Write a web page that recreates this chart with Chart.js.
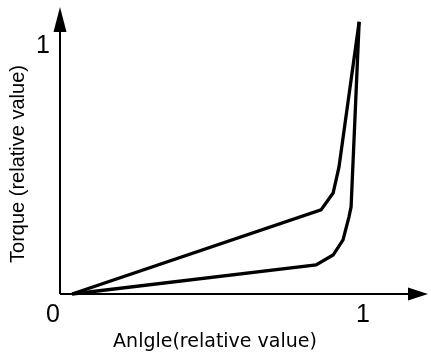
<!DOCTYPE html>
<html>
<head>
<meta charset="utf-8">
<script src="https://cdn.jsdelivr.net/npm/chart.js"></script>
<style>
	body { margin: 0; background: #fff; }
	#box { width: 431px; height: 356px; }
</style>
</head>
<body>
<div id="box"><canvas id="mycanvas"></canvas></div>
<script>
// values (relative units)
var upperAngle = [0.039, 0.842, 0.881, 0.900, 0.965];
var upperTorque = [0, 0.339, 0.407, 0.512, 1.097];
var lowerAngle = [0.039, 0.826, 0.881, 0.913, 0.932, 0.939, 0.965];
var lowerTorque = [0, 0.117, 0.157, 0.218, 0.310, 0.351, 1.097];
var xTicks = [0, 1];
var yTicks = [1];

function toPoints(xs, ys) {
	var pts = [];
	for (var i in xs) {
		pts.push({x: xs[i], y: ys[i]});
	}
	return pts;
}

// axis lines with arrow heads, running past the chart area
var arrowAxes = {
	id: 'arrowAxes',
	afterDatasetsDraw: function(chart) {
		var ctx = chart.ctx;
		var area = chart.chartArea;
		var x0 = chart.scales.x.getPixelForValue(0);
		var y0 = chart.scales.y.getPixelForValue(0);
		var xTip = area.right + 58;
		var yTip = area.top - 27;
		ctx.save();
		ctx.strokeStyle = '#000';
		ctx.fillStyle = '#000';
		ctx.lineWidth = 2;
		ctx.beginPath();
		ctx.moveTo(x0, y0);
		ctx.lineTo(xTip - 18, y0);
		ctx.moveTo(x0, y0);
		ctx.lineTo(x0, yTip + 22);
		ctx.stroke();
		ctx.beginPath();
		ctx.moveTo(xTip, y0);
		ctx.lineTo(xTip - 20, y0 - 6.5);
		ctx.lineTo(xTip - 20, y0 + 6.5);
		ctx.closePath();
		ctx.fill();
		ctx.beginPath();
		ctx.moveTo(x0, yTip);
		ctx.lineTo(x0 - 6.5, yTip + 25);
		ctx.lineTo(x0 + 6.5, yTip + 25);
		ctx.closePath();
		ctx.fill();
		ctx.restore();
	}
};

var chartdata = {
	datasets: [
		{
			label: 'upper',
			data: toPoints(upperAngle, upperTorque),
			borderColor: '#000',
			borderWidth: 3.3,
			showLine: true,
			pointRadius: 0,
			tension: 0,
			clip: false
		},
		{
			label: 'lower',
			data: toPoints(lowerAngle, lowerTorque),
			borderColor: '#000',
			borderWidth: 3.3,
			showLine: true,
			pointRadius: 0,
			tension: 0,
			clip: false
		}
	]
};

var ctx = document.getElementById('mycanvas');

var graph = new Chart(ctx, {
	type: 'scatter',
	data: chartdata,
	plugins: [arrowAxes],
	options: {
		responsive: true,
		maintainAspectRatio: false,
		animation: false,
		layout: { padding: { top: 34, right: 61, left: 0, bottom: 0 } },
		plugins: {
			legend: { display: false },
			tooltip: { enabled: false }
		},
		scales: {
			x: {
				min: 0,
				max: 1,
				border: { display: false },
				grid: { display: false, drawTicks: false },
				afterBuildTicks: function(scale) {
					scale.ticks = xTicks.map(function(v) { return {value: v}; });
				},
				afterFit: function(scale) { scale.height = 62; },
				ticks: {
					align: 'end',
					padding: 6,
					color: '#000',
					font: { family: 'Liberation Sans', size: 25 },
					callback: function(v) { return String(v); }
				},
				title: {
					display: true,
					text: 'Anlgle(relative value)',
					color: '#000',
					font: { family: 'DejaVu Sans', size: 19 },
					padding: { top: 0, bottom: 3 }
				}
			},
			y: {
				min: 0,
				max: 1.048,
				border: { display: false },
				grid: { display: false, drawTicks: false },
				afterBuildTicks: function(scale) {
					scale.ticks = yTicks.map(function(v) { return {value: v}; });
				},
				afterFit: function(scale) { scale.width = 60; },
				ticks: {
					padding: 10,
					color: '#000',
					font: { family: 'Liberation Sans', size: 25 },
					callback: function(v) { return String(v); }
				},
				title: {
					display: true,
					text: 'Torque (relative value)',
					color: '#000',
					font: { family: 'Liberation Sans', size: 20 },
					padding: { top: 6, bottom: 0 }
				}
			}
		}
	}
});
</script>
</body>
</html>
